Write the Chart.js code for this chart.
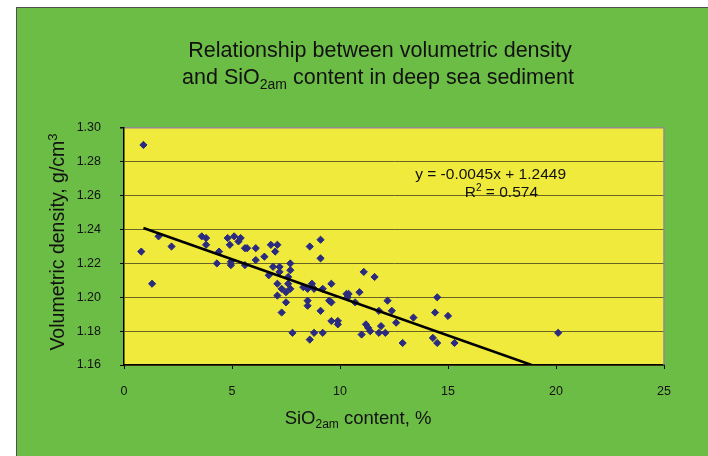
<!DOCTYPE html>
<html>
<head>
<meta charset="utf-8">
<title>Volumetric density vs SiO2am content</title>
<script src="https://cdn.jsdelivr.net/npm/chart.js@4.4.1/dist/chart.umd.min.js"></script>
<style>
    html, body { margin: 0; padding: 0; background: #ffffff; }
    #chartBox { width: 708px; height: 456px; }
</style>
</head>
<body>
<div id="chartBox"><canvas id="densityChart" width="708" height="456"></canvas></div>
<script>
// SiO2am content, % (x) and volumetric density, g/cm3 (y)
const silica = [
    0.9, 0.8, 1.3, 1.6, 2.2, 3.6, 3.8, 3.8, 4.4, 4.3,
    4.8, 4.9, 5.1, 5.3, 5.4, 4.95, 4.95, 5.6, 5.7, 6.1,
    5.6, 6.1, 6.5, 6.8, 7.1, 7.0, 6.9, 7.2, 6.7, 7.2,
    7.7, 7.7, 7.6, 7.1, 7.3, 7.6, 7.7, 7.5, 7.1, 7.5,
    7.3, 7.8, 8.6, 9.1, 9.1, 8.3, 8.5, 8.7, 8.8, 9.2,
    9.6, 8.5, 8.5, 9.1, 9.5, 9.6, 10.3, 10.4, 10.35, 10.9,
    10.7, 9.6, 9.9, 9.9, 8.8, 9.2, 8.6, 11.1, 11.6, 12.2,
    11.8, 12.4, 12.6, 11.9, 11.2, 11.3, 11.4, 11.8, 12.1, 11.0,
    12.9, 13.4, 14.4, 14.5, 15.0, 14.3, 14.5, 15.3, 20.1
];
const density = [
    1.290, 1.227, 1.208, 1.236, 1.230, 1.236, 1.235, 1.231, 1.227, 1.220,
    1.235, 1.231, 1.236, 1.233, 1.235, 1.219, 1.221, 1.229, 1.229, 1.229,
    1.219, 1.222, 1.224, 1.231, 1.231, 1.227, 1.218, 1.218, 1.213, 1.215,
    1.220, 1.216, 1.212, 1.208, 1.205, 1.208, 1.205, 1.203, 1.201, 1.197,
    1.191, 1.179, 1.230, 1.234, 1.223, 1.206, 1.205, 1.208, 1.205, 1.205,
    1.208, 1.198, 1.195, 1.192, 1.198, 1.197, 1.202, 1.202, 1.200, 1.203,
    1.197, 1.186, 1.186, 1.184, 1.179, 1.179, 1.175, 1.215, 1.212, 1.198,
    1.192, 1.192, 1.185, 1.183, 1.184, 1.182, 1.180, 1.179, 1.179, 1.178,
    1.173, 1.188, 1.191, 1.200, 1.189, 1.176, 1.173, 1.173, 1.179
];

// Linear trend y = -0.0045x + 1.2449, ends where it leaves the plot
const trendX = [0.9, 18.87];
const trendY = [1.2409, 1.16];

// Axis ticks
const xTicks = [0, 5, 10, 15, 20, 25];
const yTicks = [1.16, 1.18, 1.20, 1.22, 1.24, 1.26, 1.28, 1.30];

const FONT = '"Liberation Sans", Arial, sans-serif';

// Draw text pieces (normal / sub / sup) in one run
function drawRuns(ctx, runs, x, y, align) {
    let total = 0;
    runs.forEach(r => {
        ctx.font = r.size + 'px ' + FONT;
        r.w = ctx.measureText(r.text).width;
        total += r.w;
    });
    let cx = align === 'center' ? x - total / 2 : (align === 'right' ? x - total : x);
    runs.forEach(r => {
        ctx.font = r.size + 'px ' + FONT;
        ctx.fillText(r.text, cx, y + (r.dy || 0));
        cx += r.w;
    });
}

// Green frame, yellow plot area and all the free texts
const framePlugin = {
    id: 'framePlugin',
    beforeDraw(chart) {
        const ctx = chart.ctx;
        const a = chart.chartArea;
        ctx.save();
        ctx.fillStyle = '#ffffff';
        ctx.fillRect(0, 0, chart.width, chart.height);
        ctx.fillStyle = '#6cbd45';
        ctx.fillRect(16, 7, 720, 470);
        ctx.strokeStyle = '#505050';
        ctx.lineWidth = 1;
        ctx.strokeRect(16.5, 7.5, 720, 470);
        ctx.fillStyle = '#f0ea3c';
        ctx.fillRect(a.left, a.top, a.right - a.left, a.bottom - a.top);
        ctx.restore();
    },
    beforeDatasetsDraw(chart) {
        const ctx = chart.ctx;
        const a = chart.chartArea;
        ctx.save();
        ctx.strokeStyle = '#8c8c8c';
        ctx.lineWidth = 1.5;
        ctx.beginPath();
        ctx.moveTo(a.right, a.top);
        ctx.lineTo(a.right, a.bottom);
        ctx.stroke();
        ctx.restore();
    },
    afterDraw(chart) {
        const ctx = chart.ctx;
        ctx.save();
        ctx.fillStyle = '#111111';
        ctx.textBaseline = 'alphabetic';

        // title
        drawRuns(ctx, [{ text: 'Relationship between volumetric density', size: 21.5 }], 380, 57, 'center');
        drawRuns(ctx, [
            { text: 'and SiO', size: 21.5 },
            { text: '2am', size: 14, dy: 5 },
            { text: ' content in deep sea sediment', size: 21.5 }
        ], 378, 84, 'center');

        // x axis title
        drawRuns(ctx, [
            { text: 'SiO', size: 18.5 },
            { text: '2am', size: 12, dy: 4 },
            { text: ' content, %', size: 18.5 }
        ], 358, 424, 'center');

        // y axis title
        ctx.translate(64, 242);
        ctx.rotate(-Math.PI / 2);
        drawRuns(ctx, [
            { text: 'Volumetric density, g/cm', size: 19.5 },
            { text: '3', size: 13, dy: -7 }
        ], 0, 0, 'center');
        ctx.setTransform(1, 0, 0, 1, 0, 0);

        // trend equation
        drawRuns(ctx, [{ text: 'y = -0.0045x + 1.2449', size: 15.5 }], 566, 179, 'right');
        drawRuns(ctx, [
            { text: 'R', size: 15.5 },
            { text: '2', size: 10, dy: -6 },
            { text: ' = 0.574', size: 15.5 }
        ], 538, 197, 'right');
        ctx.restore();
    }
};

function initDensityChart() {
    const ctx = document.getElementById('densityChart').getContext('2d');
    new Chart(ctx, {
        type: 'scatter',
        data: {
            datasets: [{
                label: 'Samples',
                data: silica.map((x, i) => ({ x: x, y: density[i] })),
                pointStyle: 'rectRot',
                pointRadius: 3.6,
                pointBackgroundColor: '#2a2a80',
                pointBorderColor: '#2a2a80',
                pointBorderWidth: 1,
                order: 2
            }, {
                label: 'Linear trend',
                type: 'line',
                data: trendX.map((x, i) => ({ x: x, y: trendY[i] })),
                borderColor: '#000000',
                borderWidth: 2.5,
                pointRadius: 0,
                fill: false,
                order: 1
            }]
        },
        options: {
            responsive: false,
            devicePixelRatio: 1,
            animation: false,
            layout: { padding: { top: 128, right: 44, left: 0, bottom: 0 } },
            plugins: {
                legend: { display: false },
                title: { display: false },
                tooltip: { enabled: false }
            },
            scales: {
                x: {
                    type: 'linear',
                    min: 0,
                    max: 25,
                    afterFit: scale => { scale.height = 91; },
                    afterBuildTicks: scale => { scale.ticks = xTicks.map(v => ({ value: v })); },
                    grid: { drawOnChartArea: false, tickLength: 4, tickColor: '#000000' },
                    border: { color: '#000000', width: 1.5 },
                    ticks: {
                        padding: 15,
                        color: '#111111',
                        font: { family: FONT, size: 12.5 },
                        maxRotation: 0
                    }
                },
                y: {
                    type: 'linear',
                    min: 1.16,
                    max: 1.30,
                    afterFit: scale => { scale.width = 124; },
                    afterBuildTicks: scale => { scale.ticks = yTicks.map(v => ({ value: v })); },
                    grid: {
                        color: c => (c.tick && Math.abs(c.tick.value - 1.30) < 1e-6) ? '#8c8c8c' : '#6a6424',
                        lineWidth: c => (c.tick && Math.abs(c.tick.value - 1.30) < 1e-6) ? 1.5 : 1,
                        tickLength: 4,
                        tickColor: '#000000'
                    },
                    border: { color: '#000000', width: 1.5 },
                    ticks: {
                        padding: 19,
                        color: '#111111',
                        font: { family: FONT, size: 12.5 },
                        callback: v => Number(v).toFixed(2)
                    }
                }
            }
        },
        plugins: [framePlugin]
    });
}

document.addEventListener('DOMContentLoaded', initDensityChart);
</script>
</body>
</html>
